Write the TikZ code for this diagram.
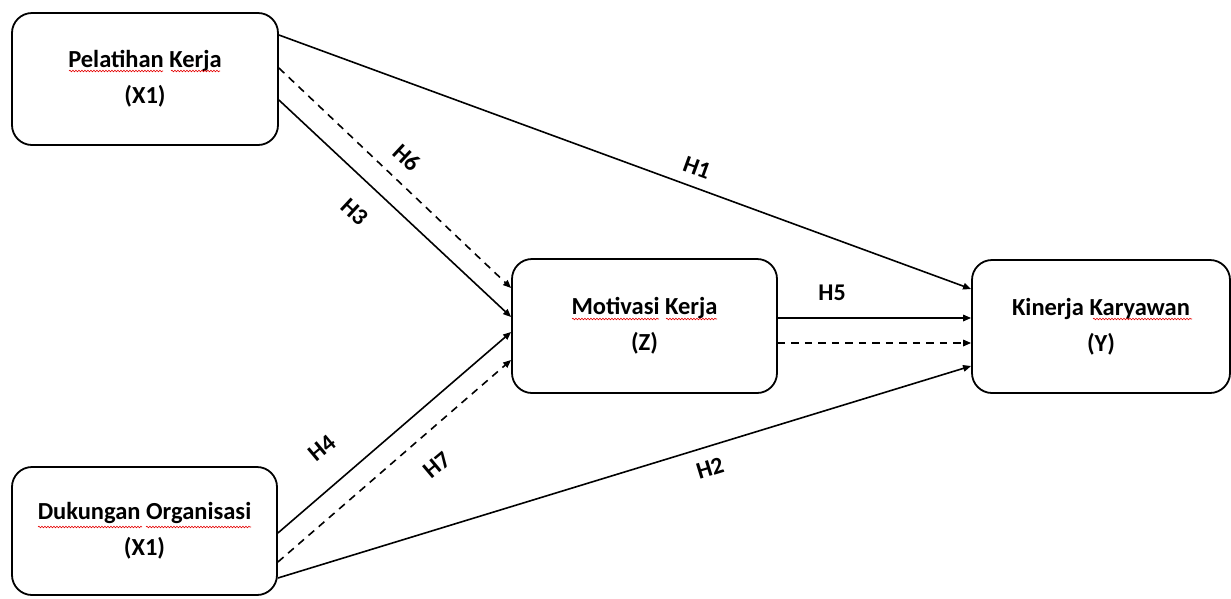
\documentclass[tikz,border=0pt]{standalone}
\usepackage{fontspec}
\setmainfont{Carlito}
\usetikzlibrary{arrows.meta,decorations.pathmorphing}
\tikzset{
 box/.style={draw, line width=1.8pt, rounded corners=20pt, align=center,
   font=\fontsize{24.5}{36}\selectfont\bfseries, inner sep=0pt},
 lbl/.style={font=\fontsize{24}{26}\selectfont\bfseries, inner sep=0pt},
 conn/.style={line width=1.6pt, -{Triangle[length=8pt,width=6.5pt]}},
 dsh/.style={conn, dash pattern=on 7.5pt off 6pt},
 sqg/.style={red!90!black, line width=0.6pt, decorate,
   decoration={snake, amplitude=0.8pt, segment length=3pt}},
}
\begin{document}
\begin{tikzpicture}[x=1pt,y=-1pt]
\useasboundingbox (0,0) rectangle (1231,598);
\node[box, minimum width=266pt, minimum height=132pt] (p) at (145,79) {Pelatihan Kerja\\(X1)};
\node[box, minimum width=265pt, minimum height=128pt] (d) at (144.5,531) {Dukungan Organisasi\\(X1)};
\node[box, minimum width=265pt, minimum height=134pt] (m) at (644.5,326) {Motivasi Kerja\\(Z)};
\node[box, minimum width=258pt, minimum height=133pt] (k) at (1101,326.5) {Kinerja Karyawan\\(Y)};

% spell-check squiggles
\draw[sqg] (69,71) -- (163,71);
\draw[sqg] (171,71) -- (220,71);
\draw[sqg] (38,527) -- (142,527);
\draw[sqg] (146,527) -- (251,527);
\draw[sqg] (572,319) -- (659,319);
\draw[sqg] (666,319) -- (717,319);
\draw[sqg] (1093,319) -- (1192,319);

\draw[conn] (p.east |- 0,35) -- (k.west |- 0,289);
\draw[dsh] (p.east |- 0,68) -- (m.west |- 0,288);
\draw[conn] (p.east |- 0,100) -- (m.west |- 0,317);
\draw[conn] (d.east |- 0,533) -- (m.west |- 0,332);
\draw[dsh] (d.east |- 0,562) -- (m.west |- 0,360);
\draw[conn] (d.east |- 0,578) -- (k.west |- 0,366);
\draw[conn] (m.east |- 0,318) -- (k.west |- 0,318);
\draw[dsh] (m.east |- 0,343) -- (k.west |- 0,343);

\node[lbl, rotate=-20] (h1) at (697,168) {H1};
\node[lbl, rotate=17] (h2) at (710,468) {H2};
\node[lbl, rotate=-43] (h3) at (355,212) {H3};
\node[lbl, rotate=40] (h4) at (322,448) {H4};
\node[lbl] (h5) at (832,293) {H5};
\node[lbl, rotate=-43] (h6) at (407,158) {H6};
\node[lbl, rotate=40] (h7) at (437,465) {H7};
\end{tikzpicture}
\end{document}
